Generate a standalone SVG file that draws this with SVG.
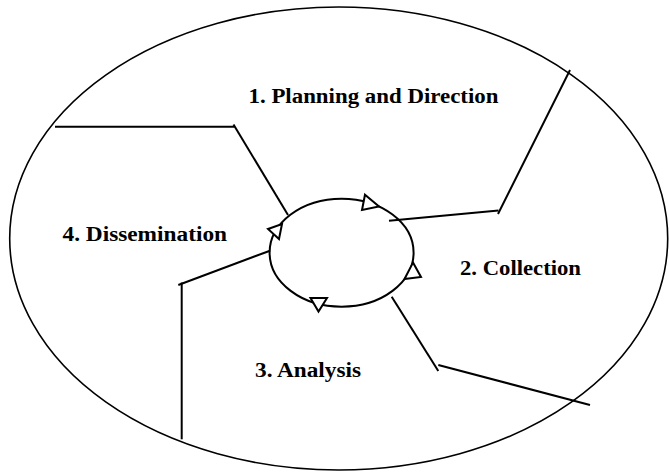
<svg xmlns="http://www.w3.org/2000/svg" width="669" height="475" viewBox="0 0 669 475">
  <style>
    .rim { fill: none; stroke: #000; stroke-width: 1.6; }
    .div { fill: none; stroke: #000; stroke-width: 2; stroke-linecap: butt; }
    .cyc { fill: none; stroke: #000; stroke-width: 2; }
    .tri { fill: #fff; stroke: #000; stroke-width: 2; stroke-linejoin: miter; }
    .lbl { font-family: "Liberation Serif", "Times New Roman", serif; font-weight: bold; font-size: 20px; fill: #000; }
  </style>

  <!-- outer boundary of the cycle -->
  <ellipse id="outer" class="rim" cx="338.7" cy="238.5" rx="329" ry="231.5"/>

  <!-- dividers between the four phases -->
  <g id="connectors">
    <polyline class="div" points="55,126.7 234.5,126.7"/>
    <line class="div" x1="233.5" y1="124.5" x2="288" y2="215"/>
    <line class="div" x1="570" y1="70" x2="498" y2="214"/>
    <line class="div" x1="498.5" y1="210.5" x2="389" y2="220.7"/>
    <line class="div" x1="391.7" y1="296.7" x2="438.3" y2="371"/>
    <line class="div" x1="438.3" y1="365" x2="590" y2="405"/>
    <line class="div" x1="270" y1="250.7" x2="178.3" y2="285"/>
    <line class="div" x1="181.7" y1="282.5" x2="181.7" y2="439.3"/>
  </g>

  <!-- central cycle with open arrowheads -->
  <g id="cycle">
    <ellipse class="cyc" cx="341.6" cy="252.7" rx="72" ry="54"/>
    <polygon class="tri" points="365,194.7 379,206.5 362,210"/>
    <polygon class="tri" points="413,262.5 421,277 404.5,279"/>
    <polygon class="tri" points="310.5,298 327,298 318.5,311.5"/>
    <polygon class="tri" points="268,229 282,224 279,239"/>
  </g>

  <g id="phase1"><text class="lbl" x="248.5" y="103.3" textLength="250" lengthAdjust="spacingAndGlyphs">1. Planning and Direction</text></g>
  <g id="phase2"><text class="lbl" x="460" y="275" textLength="121" lengthAdjust="spacingAndGlyphs">2. Collection</text></g>
  <g id="phase3"><text class="lbl" x="255" y="376.5" textLength="106" lengthAdjust="spacingAndGlyphs">3. Analysis</text></g>
  <g id="phase4"><text class="lbl" x="62.5" y="241" textLength="164.5" lengthAdjust="spacingAndGlyphs">4. Dissemination</text></g>
</svg>
